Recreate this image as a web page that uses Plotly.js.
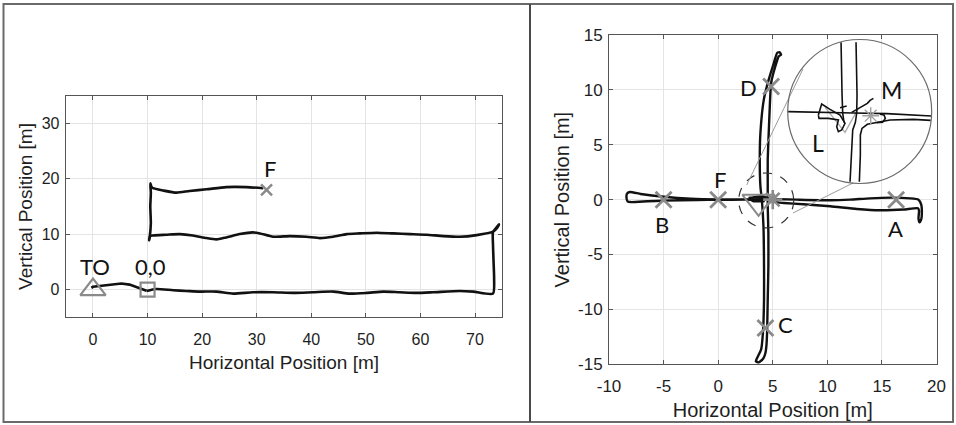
<!DOCTYPE html>
<html>
<head>
<meta charset="utf-8">
<script src="https://cdn.plot.ly/plotly-3.0.1.min.js"></script>
<style>
  html, body { margin: 0; padding: 0; background: #ffffff; }
  #chart { width: 956px; height: 425px; }
</style>
</head>
<body>
<div id="chart"></div>
<script>
// ---------------- DATA: left panel (flight path) ----------------
const leftTakeoffX = [-0.3, 0.0, 2.4, 5.2, 6.7, 8.6, 9.8];
const leftTakeoffY = [0.3, 0.5, 0.8, 1.1, 0.9, 0.2, -0.2];

const leftPathX = [9.8, 11.6, 14.7, 17.1, 19.6, 22.6, 25.7, 29.3, 33.0, 36.7, 40.3, 44.0, 47.0, 50.1, 53.2, 56.2, 59.3, 62.3, 67.2, 69.7, 73.3,
  73.5, 73.4, 73.3, 73.3,
  74.0, 74.4, 74.1, 73.3,
  70.3, 67.2, 64.2, 61.1, 58.1, 55.0, 52.0, 48.9, 46.5, 44.0, 41.6, 39.1, 36.1, 33.0, 30.6, 29.3, 26.9, 24.4, 22.6, 20.8, 18.3, 15.9, 13.4, 11.0, 10.4,
  10.3, 10.4, 10.6, 10.5, 10.6, 10.5, 10.7,
  11.0, 12.8, 15.3, 17.7, 20.8, 24.4, 28.1, 31.2];
const leftPathY = [-0.24, 0.12, -0.12, -0.24, -0.36, -0.36, -0.72, -0.48, -0.48, -0.6, -0.48, -0.36, -0.72, -0.6, -0.36, -0.48, -0.6, -0.48, -0.24, -0.36, -0.72,
  2.0, 5.0, 8.0, 10.4,
  11.3, 11.8, 11.2, 10.45,
  9.84, 9.54, 9.66, 9.9, 10.02, 10.14, 10.27, 10.14, 10.02, 9.54, 9.3, 9.54, 9.66, 9.54, 10.14, 10.33, 10.02, 9.42, 9.06, 9.3, 9.78, 10.02, 9.9, 9.78, 9.66,
  8.9, 9.5, 12.0, 15.0, 17.5, 19.2, 18.6,
  18.3, 17.9, 17.5, 17.8, 18.1, 18.5, 18.5, 18.3];

const leftTakeoffMarkX = [0];
const leftTakeoffMarkY = [0];
const leftOriginMarkX = [10];
const leftOriginMarkY = [0];
const leftFinalMarkX = [31.8];
const leftFinalMarkY = [18];

const leftLabelText = ['TO', '0,0', 'F'];
const leftLabelX = [0.3, 10.6, 32.4];
const leftLabelY = [4.1, 4.1, 21.9];

const leftXTicks = [0, 10, 20, 30, 40, 50, 60, 70];
const leftXTickText = ['0', '10', '20', '30', '40', '50', '60', '70'];
const leftYTicks = [0, 10, 20, 30];
const leftYTickText = ['0', '10', '20', '30'];

// ---------------- DATA: right panel (cross pattern) ----------------
const rightWestX = [4.2, 2.35, 0, -2.5, -4.97, -7.1, -8.1, -8.35, -8.4, -8.3, -8.0, -6.5, -5.0, -1.9, 0, 2.5, 4.2];
const rightWestY = [0.05, 0.02, 0.02, 0.08, 0.26, 0.52, 0.7, 0.55, 0.2, -0.15, -0.22, -0.15, -0.09, -0.03, -0.02, 0.0, -0.05];

const rightEastX = [4.8, 7.2, 10.3, 12.1, 13.9, 15.8, 17.6, 18.35, 18.6, 18.66, 18.6, 18.45, 18.35, 18.4, 18.3, 17.0, 14.85, 12.7, 10.27, 7.8, 6.0, 4.8];
const rightEastY = [0.06, 0.0, -0.06, 0.0, 0.12, 0.18, 0.12, 0.0, -0.45, -1.2, -1.8, -2.06, -1.7, -1.0, -0.78, -0.9, -0.97, -0.85, -0.6, -0.42, -0.3, -0.18];

const rightVertX = [5.76, 5.64, 5.4, 5.1, 4.63, 4.18, 3.87, 3.81, 3.87, 4.0, 4.15, 4.2, 4.2, 4.1, 3.93, 3.57, 3.45, 3.72, 4.12, 4.33,
  4.42, 4.48, 4.54, 4.6, 4.6, 4.54, 4.54, 4.54, 4.63, 4.73, 4.85, 5.24, 5.55, 5.76];
const rightVertY = [13.2, 13.42, 13.36, 12.45, 10.93, 9.11, 6.07, 3.64, 1.21, 0.0, -2.43, -6.07, -9.11, -12.15, -13.67, -14.42, -14.73, -14.82, -14.5, -13.97,
  -13.3, -12.15, -9.11, -6.07, -3.04, -0.6, 1.21, 3.64, 6.07, 8.5, 10.63, 12.15, 13.06, 13.2];

const rightCenterX = [2.78, 3.55, 4.31, 4.16, 3.24, 2.94, 3.2, 4.0, 4.6];
const rightCenterY = [0.15, 0.24, 0.15, -0.15, -0.15, 0.0, 0.2, 0.35, 0.1];

const waypointX = [16.3, -5.0, 4.33, 4.85, 0];
const waypointY = [0, 0, -11.7, 10.3, 0];
const waypointLabel = ['A', 'B', 'C', 'D', 'F'];
const waypointLabelX = [16.2, -5.1, 6.2, 2.8, 0.15];
const waypointLabelY = [-2.6, -2.3, -11.4, 10.26, 1.8];

const landingMarkX = [3.7];
const landingMarkY = [-0.2];
const missionMarkX = [5.0];
const missionMarkY = [0.0];

const rightXTicks = [-10, -5, 0, 5, 10, 15, 20];
const rightXTickText = ['-10', '-5', '0', '5', '10', '15', '20'];
const rightYTicks = [-15, -10, -5, 0, 5, 10, 15];
const rightYTickText = ['-15', '-10', '-5', '0', '5', '10', '15'];

// ---------------- DATA: magnified inset (normalised circle coordinates) ----------------
const insetLinesX = [
  -0.259, -0.255, -0.245, -0.236, -0.218, null,
  -0.051, -0.042, -0.037, -0.042, -0.060, -0.097, -0.116, -0.134, null,
  -0.995, -0.551, -0.088, 0.375, 0.745, 0.995, null,
  -0.005, 0.009, 0.009, 0.032, 0.106, 0.259, 0.421, 0.745, 0.986, null,
  0.282, 0.338, 0.356, 0.319, 0.236, null,
  -0.574, -0.528, -0.412, -0.273, -0.204, -0.250, -0.296, -0.319, -0.296, -0.435, -0.565, -0.574, null,
  -0.111, 0.005, 0.106, 0.144, 0.190, null,
  -0.273, -0.181];
const insetLinesY = [
  0.961, 0.600, 0.229, -0.025, -0.150, null,
  0.961, 0.600, 0.229, -0.025, -0.150, -0.257, -0.558, -0.975, null,
  -0.002, -0.007, -0.021, -0.030, -0.049, -0.063, null,
  -0.975, -0.604, -0.326, -0.234, -0.178, -0.150, -0.118, -0.109, -0.123, null,
  -0.039, -0.049, -0.095, -0.150, -0.155, null,
  -0.049, 0.104, 0.030, -0.049, -0.164, -0.257, -0.280, -0.211, -0.118, -0.095, -0.095, -0.049, null,
  -0.012, 0.053, 0.113, 0.155, 0.183, null,
  0.053, 0.076];
const insetTriangleX = [-0.481, -0.204, -0.019];
const insetTriangleY = [0.058, -0.289, 0.044];
const insetMissionX = [0.153];
const insetMissionY = [-0.058];
const insetLabelText = ['M', 'L'];
const insetLabelX = [0.435, -0.575];
const insetLabelY = [0.30, -0.44];

// ---------------- helpers (pixel -> paper) ----------------
const W = 956, H = 425;
const PX = x => x / W;
const PY = y => 1 - y / H;

const BLACK = '#111111';
const GREY = '#8a8a8a';
const FAMILY = 'Liberation Sans, Arial, sans-serif';
const labelFont = { family: 'Lato, Open Sans, sans-serif', size: 22, color: '#111' };

function axisBase(fontSize, extra) {
  return Object.assign({
    showline: true, linecolor: '#555555', linewidth: 1, mirror: 'ticks',
    ticks: 'inside', ticklen: 4, tickcolor: '#555555', tickwidth: 1,
    showgrid: true, gridcolor: '#e4e4e4', gridwidth: 1, zeroline: false,
    tickfont: { family: FAMILY, size: fontSize, color: '#1e1e1e' }, fixedrange: true, tickmode: 'array'
  }, extra);
}

const traces = [
  // left panel
  { x: leftTakeoffX, y: leftTakeoffY, xaxis: 'x', yaxis: 'y', mode: 'lines',
    line: { color: BLACK, width: 2.6 }, hoverinfo: 'skip', showlegend: false },
  { x: leftPathX, y: leftPathY, xaxis: 'x', yaxis: 'y', mode: 'lines',
    line: { color: BLACK, width: 2.6, shape: 'spline', smoothing: 0.6 }, hoverinfo: 'skip', showlegend: false },
  { x: leftTakeoffMarkX, y: leftTakeoffMarkY, xaxis: 'x', yaxis: 'y', mode: 'markers',
    marker: { symbol: 'triangle-up-open', size: 22, color: GREY, line: { color: GREY, width: 2.2 } }, showlegend: false },
  { x: leftOriginMarkX, y: leftOriginMarkY, xaxis: 'x', yaxis: 'y', mode: 'markers',
    marker: { symbol: 'square-open', size: 14, color: GREY, line: { color: GREY, width: 2.2 } }, showlegend: false },
  { x: leftFinalMarkX, y: leftFinalMarkY, xaxis: 'x', yaxis: 'y', mode: 'markers',
    marker: { symbol: 'x-thin-open', size: 11, color: GREY, line: { color: GREY, width: 2.5 } }, showlegend: false },

  // right panel
  { x: rightWestX, y: rightWestY, xaxis: 'x2', yaxis: 'y2', mode: 'lines',
    line: { color: BLACK, width: 2.4, shape: 'spline', smoothing: 0.5 }, hoverinfo: 'skip', showlegend: false },
  { x: rightEastX, y: rightEastY, xaxis: 'x2', yaxis: 'y2', mode: 'lines',
    line: { color: BLACK, width: 2.4, shape: 'spline', smoothing: 0.5 }, hoverinfo: 'skip', showlegend: false },
  { x: rightVertX, y: rightVertY, xaxis: 'x2', yaxis: 'y2', mode: 'lines',
    line: { color: BLACK, width: 2.4, shape: 'spline', smoothing: 0.5 }, hoverinfo: 'skip', showlegend: false },
  { x: rightCenterX, y: rightCenterY, xaxis: 'x2', yaxis: 'y2', mode: 'lines',
    line: { color: BLACK, width: 2.4 }, hoverinfo: 'skip', showlegend: false },
  { x: waypointX, y: waypointY, xaxis: 'x2', yaxis: 'y2', mode: 'markers',
    marker: { symbol: 'x-thin-open', size: 16, color: GREY, line: { color: GREY, width: 2.8 } }, showlegend: false },
  { x: landingMarkX, y: landingMarkY, xaxis: 'x2', yaxis: 'y2', mode: 'markers',
    marker: { symbol: 'triangle-down-open', size: 28, color: GREY, line: { color: GREY, width: 2 } }, showlegend: false },
  { x: missionMarkX, y: missionMarkY, xaxis: 'x2', yaxis: 'y2', mode: 'markers',
    marker: { symbol: 'asterisk-open', size: 16, color: GREY, line: { color: GREY, width: 2.6 } }, showlegend: false },

  // inset
  { x: insetTriangleX, y: insetTriangleY, xaxis: 'x3', yaxis: 'y3', mode: 'lines',
    line: { color: '#a8a8a8', width: 1.3 }, hoverinfo: 'skip', showlegend: false },
  { x: insetLinesX, y: insetLinesY, xaxis: 'x3', yaxis: 'y3', mode: 'lines',
    line: { color: BLACK, width: 1.6 }, connectgaps: false, hoverinfo: 'skip', showlegend: false },
  { x: insetMissionX, y: insetMissionY, xaxis: 'x3', yaxis: 'y3', mode: 'markers',
    marker: { symbol: 'asterisk-open', size: 14, color: '#a0a0a0', line: { color: '#a0a0a0', width: 1.4 } }, showlegend: false }
];

const annotations = [];
leftLabelText.forEach((t, i) => annotations.push({
  xref: 'x', yref: 'y', x: leftLabelX[i], y: leftLabelY[i], text: t, showarrow: false,
  font: labelFont, xanchor: 'center', yanchor: 'middle'
}));
waypointLabel.forEach((t, i) => annotations.push({
  xref: 'x2', yref: 'y2', x: waypointLabelX[i], y: waypointLabelY[i], text: t, showarrow: false,
  font: labelFont, xanchor: 'center', yanchor: 'middle'
}));
insetLabelText.forEach((t, i) => annotations.push({
  xref: 'x3', yref: 'y3', x: insetLabelX[i], y: insetLabelY[i], text: t, showarrow: false,
  font: { family: labelFont.family, size: 23, color: '#111' }, xanchor: 'center', yanchor: 'middle'
}));

const insetCx = 859.7, insetCy = 111.5, insetR = 72;

const shapes = [
  // outer frame and panel divider
  { type: 'rect', xref: 'paper', yref: 'paper', x0: PX(3.5), x1: PX(953), y0: PY(422), y1: PY(4),
    line: { color: '#6a6a6a', width: 2 }, fillcolor: 'rgba(0,0,0,0)' },
  { type: 'line', xref: 'paper', yref: 'paper', x0: PX(530), x1: PX(530), y0: PY(422), y1: PY(4),
    line: { color: '#4a4a4a', width: 2 } },
  // dashed zoom circle in data space of right panel
  { type: 'circle', xref: 'x2', yref: 'y2', x0: 1.88, x1: 6.92, y0: -2.57, y1: 2.43,
    line: { color: '#333', width: 1.2, dash: 'dash' } },
  // connector lines
  { type: 'line', xref: 'paper', yref: 'paper', x0: PX(746.7), y0: PY(185), x1: PX(803), y1: PY(69),
    line: { color: '#9a9a9a', width: 1 } },
  { type: 'line', xref: 'paper', yref: 'paper', x0: PX(793), y0: PY(213), x1: PX(853), y1: PY(183),
    line: { color: '#9a9a9a', width: 1 } },
  // inset circle
  { type: 'circle', xref: 'paper', yref: 'paper',
    x0: PX(insetCx - insetR), x1: PX(insetCx + insetR), y0: PY(insetCy + insetR), y1: PY(insetCy - insetR),
    line: { color: '#6a6a6a', width: 1.2 } }
];

const layout = {
  width: W, height: H,
  margin: { l: 0, r: 0, t: 0, b: 0 },
  paper_bgcolor: '#ffffff', plot_bgcolor: 'rgba(0,0,0,0)',
  showlegend: false,
  xaxis: axisBase(16, { domain: [PX(65.7), PX(502.3)], range: [-5, 75], anchor: 'y',
    tickvals: leftXTicks, ticktext: leftXTickText, ticklabelstandoff: 7,
    title: { text: 'Horizontal Position [m]', font: { family: FAMILY, size: 19, color: '#1e1e1e' }, standoff: 9 } }),
  yaxis: axisBase(16, { domain: [PY(317.3), PY(95.7)], range: [-5, 35], anchor: 'x',
    tickvals: leftYTicks, ticktext: leftYTickText, ticklabelstandoff: 2,
    title: { text: 'Vertical Position [m]', font: { family: FAMILY, size: 19, color: '#1e1e1e' }, standoff: 4 } }),
  xaxis2: axisBase(17, { domain: [PX(609), PX(936.5)], range: [-10, 20], anchor: 'y2',
    tickvals: rightXTicks, ticktext: rightXTickText, ticklabelstandoff: 6,
    title: { text: 'Horizontal Position [m]', font: { family: FAMILY, size: 20, color: '#1e1e1e' }, standoff: 8 } }),
  yaxis2: axisBase(17, { domain: [PY(364.3), PY(35)], range: [-15, 15], anchor: 'x2',
    tickvals: rightYTicks, ticktext: rightYTickText, ticklabelstandoff: 2,
    title: { text: 'Vertical Position [m]', font: { family: FAMILY, size: 20, color: '#1e1e1e' }, standoff: 3 } }),
  xaxis3: { domain: [PX(insetCx - insetR), PX(insetCx + insetR)], range: [-1, 1], anchor: 'y3',
    visible: false, fixedrange: true },
  yaxis3: { domain: [PY(insetCy + insetR), PY(insetCy - insetR)], range: [-1, 1], anchor: 'x3',
    visible: false, fixedrange: true },
  annotations: annotations,
  shapes: shapes
};

Plotly.newPlot('chart', traces, layout, { staticPlot: true, displayModeBar: false });
</script>
</body>
</html>
